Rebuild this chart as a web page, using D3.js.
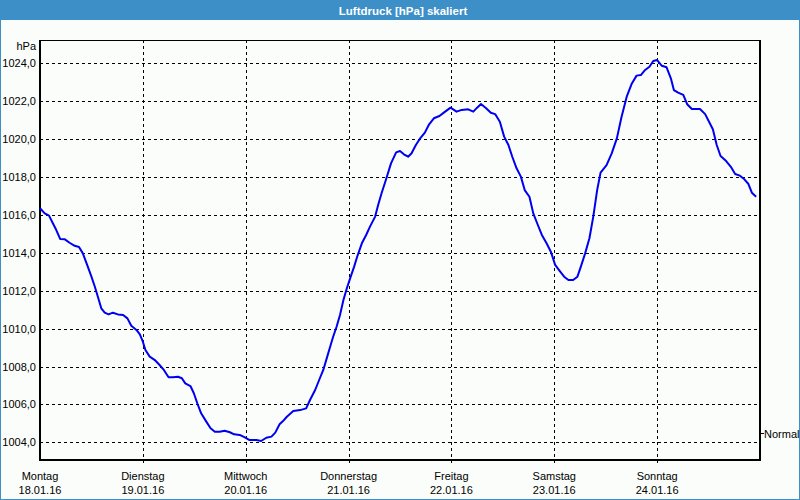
<!DOCTYPE html>
<html><head><meta charset="utf-8">
<script src="https://cdn.jsdelivr.net/npm/d3@7/dist/d3.min.js"></script>
<style>body{margin:0;background:#fff;} svg{display:block;}</style>
</head><body><svg id="c" width="800" height="500"></svg>
<script>
const chartTitle = "Luftdruck [hPa] skaliert";
const unitLabel = "hPa";
const dayNames = ["Montag","Dienstag","Mittwoch","Donnerstag","Freitag","Samstag","Sonntag"];
const dayDates = ["18.01.16","19.01.16","20.01.16","21.01.16","22.01.16","23.01.16","24.01.16"];
const yTicks = [1004,1006,1008,1010,1012,1014,1016,1018,1020,1022,1024];
const normalLabel = "Normal";
const normalValue = 1004.5;
// hours since 18.01.16 00:00
const hours = [0,1.1,2.1,3.0,3.8,4.7,5.8,6.9,8.1,9.1,10.0,11.0,12.0,12.8,13.5,14.3,15.1,16.0,17.0,18.2,19.4,20.4,21.3,22.5,23.3,24.0,24.6,25.6,26.8,27.9,28.9,30.0,31.0,32.2,33.1,33.9,35.1,35.9,36.7,37.6,38.8,39.8,40.8,41.9,43.1,44.3,45.3,46.6,47.8,48.9,50.5,51.6,52.8,54.0,54.9,55.9,56.7,57.6,59.1,60.7,62.1,63.0,64.2,65.3,66.1,66.9,67.7,68.4,69.2,70.0,70.8,71.6,72.5,73.3,74.0,75.1,76.1,77.0,78.2,78.9,79.7,80.7,81.9,83.1,84.0,84.9,85.9,86.7,87.7,88.8,89.8,90.8,91.9,93.2,94.3,95.8,97.2,98.4,99.9,101.1,102.0,102.9,104.1,105.2,106.2,107.3,108.3,109.3,110.2,111.2,112.2,113.1,114.2,115.1,116.0,117.1,118.2,119.2,120.2,121.2,122.3,123.3,124.4,125.4,126.2,127.2,128.2,129.1,130.0,130.8,132.2,133.4,134.6,135.7,136.9,138.1,139.2,140.2,141.2,142.2,143.1,144.0,145.1,146.2,147.2,147.9,148.9,150.1,151.0,152.1,154.0,155.2,155.9,157.0,157.9,158.8,160.1,161.2,162.2,163.3,164.3,165.3,166.1,167.1];
const pressure = [1016.35,1016.08,1015.96,1015.56,1015.2,1014.73,1014.71,1014.53,1014.37,1014.31,1013.97,1013.36,1012.74,1012.21,1011.68,1011.07,1010.84,1010.75,1010.84,1010.75,1010.72,1010.54,1010.15,1009.93,1009.70,1009.31,1008.87,1008.52,1008.34,1008.08,1007.82,1007.43,1007.43,1007.46,1007.38,1007.11,1006.97,1006.59,1006.06,1005.53,1005.09,1004.74,1004.56,1004.56,1004.61,1004.53,1004.42,1004.39,1004.26,1004.12,1004.12,1004.07,1004.24,1004.30,1004.51,1004.95,1005.12,1005.35,1005.65,1005.70,1005.79,1006.23,1006.76,1007.38,1007.82,1008.43,1009.04,1009.57,1010.10,1010.72,1011.51,1012.13,1012.74,1013.27,1013.79,1014.50,1014.94,1015.38,1015.91,1016.52,1017.14,1017.84,1018.72,1019.30,1019.37,1019.20,1019.07,1019.25,1019.69,1020.07,1020.34,1020.78,1021.10,1021.22,1021.41,1021.66,1021.45,1021.54,1021.57,1021.45,1021.66,1021.85,1021.63,1021.39,1021.32,1020.92,1020.13,1019.69,1019.07,1018.46,1018.02,1017.31,1016.96,1016.08,1015.56,1014.94,1014.50,1014.06,1013.36,1013.06,1012.74,1012.56,1012.56,1012.74,1013.27,1013.97,1014.77,1015.91,1017.31,1018.23,1018.63,1019.25,1020.04,1021.18,1022.24,1022.94,1023.35,1023.38,1023.65,1023.82,1024.12,1024.17,1023.87,1023.79,1023.21,1022.59,1022.45,1022.33,1021.84,1021.59,1021.59,1021.32,1021.01,1020.52,1019.69,1019.11,1018.84,1018.54,1018.16,1018.07,1017.89,1017.63,1017.17,1016.96];

const W = 800, H = 500;
const L = 40, R = 760, T = 40, B = 460;
const svg = d3.select("#c");
const font = "'Liberation Sans', Arial, sans-serif";

const x = d3.scaleLinear().domain([0, 168]).range([L, R]);
const y = d3.scaleLinear().domain([1003.066, 1025.23]).range([B, T]);

// background + frame
svg.append("rect").attr("x",0).attr("y",0).attr("width",W).attr("height",H).attr("fill","#fafdfa");
svg.append("rect").attr("x",0).attr("y",0).attr("width",W).attr("height",20).attr("fill","#3c8fc7");
svg.append("rect").attr("x",0.5).attr("y",0.5).attr("width",W-1).attr("height",H-1)
  .attr("fill","none").attr("stroke","#3c8fc7");
svg.append("text").attr("x",403).attr("y",14.5).attr("text-anchor","middle")
  .attr("fill","#fff").attr("font-family",font).attr("font-weight","bold").attr("font-size","11.5px")
  .text(chartTitle);

// horizontal grid
const g = svg.append("g").attr("shape-rendering","crispEdges");
g.selectAll("line.hg").data(yTicks).enter().append("line")
  .attr("x1",L).attr("x2",R)
  .attr("y1",d=>Math.round(y(d))+0.5).attr("y2",d=>Math.round(y(d))+0.5)
  .attr("stroke","#000").attr("stroke-dasharray","3,3");
// vertical grid (day boundaries)
const dayIdx = d3.range(1, dayNames.length);
g.selectAll("line.vg").data(dayIdx).enter().append("line")
  .attr("x1",d=>Math.round(x(d*24))+0.5).attr("x2",d=>Math.round(x(d*24))+0.5)
  .attr("y1",T).attr("y2",B+4)
  .attr("stroke","#000").attr("stroke-dasharray","3,3");

// y labels
svg.selectAll("text.yl").data(yTicks).enter().append("text")
  .attr("x",36).attr("y",d=>y(d)+4).attr("text-anchor","end")
  .attr("font-family",font).attr("font-size","11px").attr("fill","#000")
  .text(d=>d.toFixed(1).replace(".",","));
svg.append("text").attr("x",36).attr("y",50).attr("text-anchor","end")
  .attr("font-family",font).attr("font-size","11px").attr("fill","#000").text(unitLabel);

// x labels
const xl = svg.selectAll("g.xl").data(dayNames).enter().append("g");
xl.append("text").attr("x",(d,i)=>x(i*24)).attr("y",480).attr("text-anchor","middle")
  .attr("font-family",font).attr("font-size","11px").attr("fill","#000").text(d=>d);
xl.append("text").attr("x",(d,i)=>x(i*24)).attr("y",494).attr("text-anchor","middle")
  .attr("font-family",font).attr("font-size","11px").attr("fill","#000").text((d,i)=>dayDates[i]);

// frame lines
g.append("line").attr("x1",L).attr("x2",R).attr("y1",T+0.5).attr("y2",T+0.5).attr("stroke","#000");
g.append("line").attr("x1",L).attr("x2",L).attr("y1",T).attr("y2",B+1).attr("stroke","#000").attr("stroke-width",2);
g.append("line").attr("x1",R).attr("x2",R).attr("y1",T).attr("y2",B+1).attr("stroke","#000").attr("stroke-width",2);
g.append("line").attr("x1",L-1).attr("x2",R+1).attr("y1",B).attr("y2",B).attr("stroke","#000").attr("stroke-width",2);

// normal marker
const ny = Math.round(y(normalValue))+0.5;
g.append("line").attr("x1",R).attr("x2",R+4).attr("y1",ny).attr("y2",ny).attr("stroke","#000");
svg.append("text").attr("x",R+4).attr("y",ny+4).attr("font-family",font).attr("font-size","11px")
  .attr("fill","#000").text(normalLabel);

// data line
const data = hours.map((h,i)=>({h, v: pressure[i]}));
const line = d3.line().x(d=>x(d.h)).y(d=>y(d.v));
svg.append("path").datum(data).attr("d",line).attr("fill","none")
  .attr("stroke","#0000f0").attr("stroke-width",2).attr("stroke-linejoin","round");
</script></body></html>
